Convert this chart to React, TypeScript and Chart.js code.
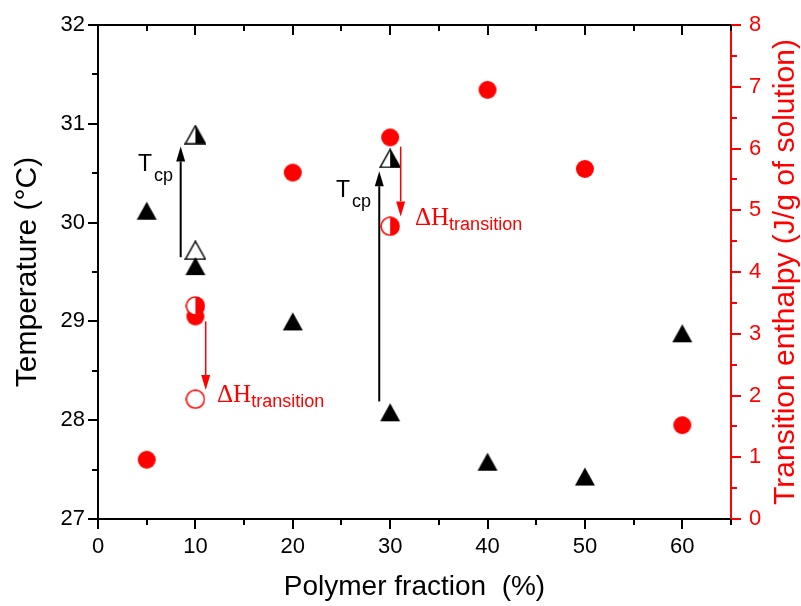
import React, { useEffect, useRef } from 'react';
import { Chart, registerables } from 'chart.js';

Chart.register(...registerables);

// ---------- data ----------
const fractions = [5, 10, 20, 30, 40, 50, 60];
const tempFilled = [30.12, 29.56, 29.0, 28.08, 27.58, 27.43, 28.88];
const tempOpenX = [10];
const tempOpen = [29.72];
const tempHalfX = [10, 30];
const tempHalf = [30.89, 30.65];
const enthalpyFilled = [0.96, 3.28, 5.61, 6.18, 6.95, 5.67, 1.52];
const enthalpyHalfX = [10, 30];
const enthalpyHalf = [3.45, 4.74];
const enthalpyOpenX = [10];
const enthalpyOpen = [1.94];

const xTicks = [0, 10, 20, 30, 40, 50, 60];
const xMinorTicks = [5, 15, 25, 35, 45, 55, 65];
const tempTicks = [27, 28, 29, 30, 31, 32];
const tempMinorTicks = [27.5, 28.5, 29.5, 30.5, 31.5];
const enthalpyTicks = [0, 1, 2, 3, 4, 5, 6, 7, 8];
const enthalpyMinorTicks = [0.5, 1.5, 2.5, 3.5, 4.5, 5.5, 6.5, 7.5];

// annotation arrows: x, from, to
const tcpArrowX = [8.49, 28.88];
const tcpArrowFrom = [29.65, 28.19];
const tcpArrowTo = [30.77, 30.52];
const dhArrowX = [11.06, 31.08];
const dhArrowFrom = [3.2, 6.03];
const dhArrowTo = [2.09, 4.9];
// annotation labels (left x, baseline y)
const tcpLabelX = [4.1, 24.43];
const tcpLabelY = [30.52, 30.26];
const dhLabelX = [12.22, 32.55];
const dhLabelY = [1.89, 4.76];

const RED = '#ff0000';
const SANS = '"Liberation Sans", Arial, sans-serif';
const SERIF = '"Liberation Serif", "Times New Roman", serif';

function makeCanvas(w: number, h: number, draw: (ctx: CanvasRenderingContext2D) => void) {
  const c = document.createElement('canvas');
  c.width = w;
  c.height = h;
  const ctx = c.getContext('2d')!;
  draw(ctx);
  return c;
}

function triPath(ctx: CanvasRenderingContext2D) {
  ctx.beginPath();
  ctx.moveTo(11, 1);
  ctx.lineTo(21, 19);
  ctx.lineTo(1, 19);
  ctx.closePath();
}

function circPath(ctx: CanvasRenderingContext2D) {
  ctx.beginPath();
  ctx.arc(10, 10, 9, 0, Math.PI * 2);
  ctx.closePath();
}

export default function App() {
  const ref = useRef<HTMLCanvasElement>(null);

  useEffect(() => {
    document.body.style.margin = '0';
    const triFilled = makeCanvas(22, 20, (ctx) => {
      triPath(ctx);
      ctx.fillStyle = '#000';
      ctx.fill();
    });
    const triOpen = makeCanvas(22, 20, (ctx) => {
      triPath(ctx);
      ctx.fillStyle = '#fff';
      ctx.fill();
      ctx.lineWidth = 1.5;
      ctx.strokeStyle = '#000';
      ctx.stroke();
    });
    const triHalf = makeCanvas(22, 20, (ctx) => {
      triPath(ctx);
      ctx.fillStyle = '#fff';
      ctx.fill();
      ctx.save();
      ctx.beginPath();
      ctx.rect(11, 0, 11, 20);
      ctx.clip();
      triPath(ctx);
      ctx.fillStyle = '#000';
      ctx.fill();
      ctx.restore();
      triPath(ctx);
      ctx.lineWidth = 1.5;
      ctx.strokeStyle = '#000';
      ctx.stroke();
    });
    const circFilled = makeCanvas(20, 20, (ctx) => {
      circPath(ctx);
      ctx.fillStyle = RED;
      ctx.fill();
    });
    const circOpen = makeCanvas(20, 20, (ctx) => {
      circPath(ctx);
      ctx.fillStyle = '#fff';
      ctx.fill();
      ctx.lineWidth = 1.5;
      ctx.strokeStyle = RED;
      ctx.stroke();
    });
    const circHalf = makeCanvas(20, 20, (ctx) => {
      circPath(ctx);
      ctx.fillStyle = '#fff';
      ctx.fill();
      ctx.save();
      ctx.beginPath();
      ctx.rect(10, 0, 10, 20);
      ctx.clip();
      circPath(ctx);
      ctx.fillStyle = RED;
      ctx.fill();
      ctx.restore();
      circPath(ctx);
      ctx.lineWidth = 1.5;
      ctx.strokeStyle = RED;
      ctx.stroke();
    });

    const pts = (xs: number[], ys: number[]) => xs.map((x, i) => ({ x, y: ys[i] }));

    const decor = {
      id: 'decor',
      afterDraw(chart: any) {
        const ctx: CanvasRenderingContext2D = chart.ctx;
        const { left, right, top, bottom } = chart.chartArea;
        const xs = chart.scales.x;
        const ys = chart.scales.y;
        const y2 = chart.scales.y2;
        ctx.save();
        // top frame
        ctx.strokeStyle = '#000';
        ctx.lineWidth = 2;
        ctx.beginPath();
        ctx.moveTo(left - 1, top);
        ctx.lineTo(right, top);
        ctx.stroke();
        // x ticks (top inward majors, minors top & bottom)
        ctx.beginPath();
        xTicks.forEach((v) => {
          const px = Math.round(xs.getPixelForValue(v));
          if (v > 0) {
            ctx.moveTo(px, top);
            ctx.lineTo(px, top + 10);
          }
        });
        xMinorTicks.forEach((v) => {
          const px = Math.round(xs.getPixelForValue(v));
          ctx.moveTo(px, top);
          ctx.lineTo(px, top + 6);
          ctx.moveTo(px, bottom);
          ctx.lineTo(px, bottom + 6);
        });
        tempMinorTicks.forEach((v) => {
          const py = Math.round(ys.getPixelForValue(v));
          ctx.moveTo(left - 6, py);
          ctx.lineTo(left, py);
        });
        ctx.stroke();
        ctx.strokeStyle = RED;
        ctx.beginPath();
        enthalpyMinorTicks.forEach((v) => {
          const py = Math.round(y2.getPixelForValue(v));
          ctx.moveTo(right, py);
          ctx.lineTo(right + 6, py);
        });
        ctx.stroke();

        // arrows
        const arrow = (x: number, y1: number, yTo: number, color: string, lw: number) => {
          ctx.strokeStyle = color;
          ctx.fillStyle = color;
          ctx.lineWidth = lw;
          const dir = yTo < y1 ? -1 : 1;
          const headL = 15;
          const headW = 4.5;
          ctx.beginPath();
          ctx.moveTo(x, y1);
          ctx.lineTo(x, yTo - dir * headL);
          ctx.stroke();
          ctx.beginPath();
          ctx.moveTo(x, yTo);
          ctx.lineTo(x - headW, yTo - dir * headL);
          ctx.lineTo(x + headW, yTo - dir * headL);
          ctx.closePath();
          ctx.fill();
        };
        tcpArrowX.forEach((v, i) => {
          arrow(xs.getPixelForValue(v), ys.getPixelForValue(tcpArrowFrom[i]), ys.getPixelForValue(tcpArrowTo[i]), '#000', 2);
        });
        dhArrowX.forEach((v, i) => {
          arrow(xs.getPixelForValue(v), y2.getPixelForValue(dhArrowFrom[i]), y2.getPixelForValue(dhArrowTo[i]), RED, 1.5);
        });

        // labels
        ctx.textAlign = 'left';
        ctx.textBaseline = 'alphabetic';
        tcpLabelX.forEach((v, i) => {
          const px = xs.getPixelForValue(v);
          const py = ys.getPixelForValue(tcpLabelY[i]);
          ctx.fillStyle = '#000';
          ctx.font = `23px ${SANS}`;
          ctx.fillText('T', px, py);
          const w = ctx.measureText('T').width;
          ctx.font = `18px ${SANS}`;
          ctx.fillText('cp', px + w + 2, py + 10);
        });
        dhLabelX.forEach((v, i) => {
          const px = xs.getPixelForValue(v);
          const py = y2.getPixelForValue(dhLabelY[i]);
          ctx.fillStyle = RED;
          ctx.font = `25px ${SERIF}`;
          ctx.fillText('\u0394H', px, py);
          const w = ctx.measureText('\u0394H').width;
          ctx.font = `18px ${SANS}`;
          ctx.fillText('transition', px + w, py + 5);
        });

        // right axis title (reads bottom-to-top)
        ctx.save();
        ctx.translate(786, (top + bottom) / 2);
        ctx.rotate(-Math.PI / 2);
        ctx.textAlign = 'center';
        ctx.textBaseline = 'middle';
        ctx.fillStyle = RED;
        ctx.font = `30px ${SANS}`;
        ctx.fillText('Transition enthalpy (J/g of solution)', 0, 0);
        ctx.restore();

        ctx.restore();
      },
    };

    const chart = new Chart(ref.current!, {
      type: 'scatter',
      data: {
        datasets: [
          { data: pts(enthalpyHalfX, enthalpyHalf), yAxisID: 'y2', pointStyle: circHalf as any, order: 0 },
          { data: pts(enthalpyOpenX, enthalpyOpen), yAxisID: 'y2', pointStyle: circOpen as any, order: 1 },
          { data: pts(fractions, enthalpyFilled), yAxisID: 'y2', pointStyle: circFilled as any, order: 2 },
          { data: pts(tempHalfX, tempHalf), yAxisID: 'y', pointStyle: triHalf as any, order: 3 },
          { data: pts(fractions, tempFilled), yAxisID: 'y', pointStyle: triFilled as any, order: 4 },
          { data: pts(tempOpenX, tempOpen), yAxisID: 'y', pointStyle: triOpen as any, order: 5 },
        ],
      },
      options: {
        animation: false,
        responsive: false,
        devicePixelRatio: 1,
        events: [],
        layout: { padding: { top: 25, left: 0, right: 0, bottom: 0 } },
        plugins: { legend: { display: false }, tooltip: { enabled: false } },
        scales: {
          x: {
            type: 'linear',
            position: 'bottom',
            min: 0,
            max: 65,
            afterBuildTicks: (s: any) => {
              s.ticks = xTicks.map((v) => ({ value: v }));
            },
            afterFit: (s: any) => {
              s.height = 87;
            },
            ticks: { font: { family: SANS, size: 22 }, color: '#000', padding: 5, maxRotation: 0, autoSkip: false },
            grid: { drawOnChartArea: false, drawTicks: true, tickLength: 10, tickWidth: 2, lineWidth: 2, color: '#000' },
            border: { display: true, color: '#000', width: 2 },
            title: {
              display: true,
              text: 'Polymer fraction  (%)',
              font: { family: SANS, size: 28 },
              color: '#000',
              padding: { top: 0, bottom: 2 },
            },
          },
          y: {
            type: 'linear',
            position: 'left',
            min: 27,
            max: 32,
            afterBuildTicks: (s: any) => {
              s.ticks = tempTicks.map((v) => ({ value: v }));
            },
            afterFit: (s: any) => {
              s.width = 98;
            },
            ticks: { font: { family: SANS, size: 22 }, color: '#000', padding: 3 },
            grid: { drawOnChartArea: false, drawTicks: true, tickLength: 10, tickWidth: 2, lineWidth: 2, color: '#000' },
            border: { display: true, color: '#000', width: 2 },
            title: {
              display: true,
              text: 'Temperature (\u00B0C)',
              font: { family: SANS, size: 30 },
              color: '#000',
              padding: { top: 10, bottom: 0 },
            },
          },
          y2: {
            type: 'linear',
            position: 'right',
            min: 0,
            max: 8,
            afterBuildTicks: (s: any) => {
              s.ticks = enthalpyTicks.map((v) => ({ value: v }));
            },
            afterFit: (s: any) => {
              s.width = 70;
            },
            ticks: { font: { family: SANS, size: 22 }, color: RED, padding: 8 },
            grid: { drawOnChartArea: false, drawTicks: true, tickLength: 10, tickWidth: 2, lineWidth: 2, color: RED },
            border: { display: true, color: RED, width: 2 },
            title: { display: false },
          },
        },
      },
      plugins: [decor],
    } as any);

    return () => chart.destroy();
  }, []);

  return (
    <div style={{ width: 801, height: 606 }}>
      <canvas ref={ref} width={801} height={606} style={{ display: 'block' }} />
    </div>
  );
}
